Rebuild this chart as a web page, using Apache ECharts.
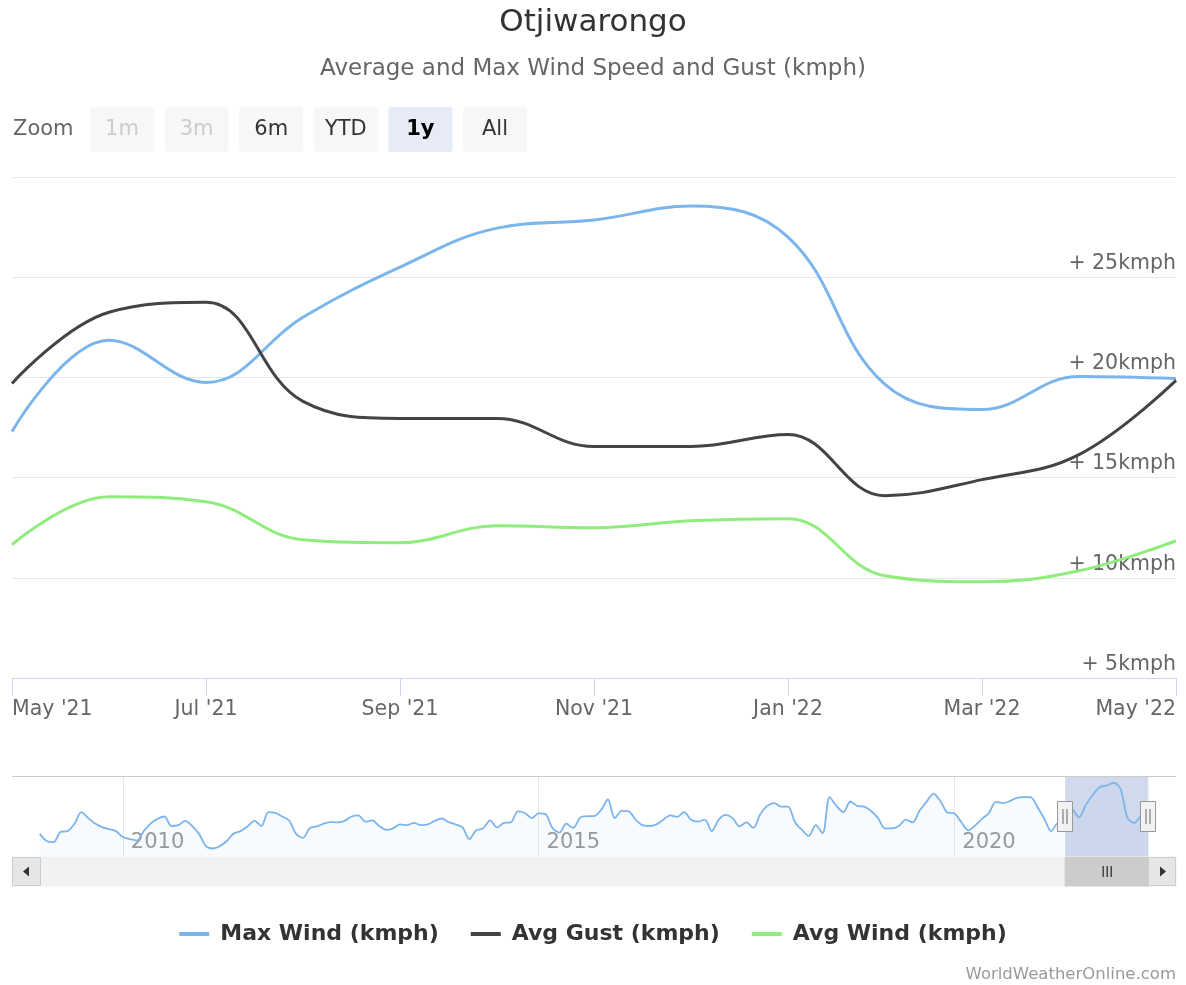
<!DOCTYPE html>
<html><head><meta charset="utf-8">
<script src="https://cdn.jsdelivr.net/npm/echarts@6/dist/echarts.min.js"></script>
<style>html,body{margin:0;padding:0;background:#fff}#chart{width:1186px;height:985px}</style>
</head><body><div id="chart"></div>
<script>
// ---------- data ----------
const months = ["May '21","Jun '21","Jul '21","Aug '21","Sep '21","Oct '21","Nov '21","Dec '21","Jan '22","Feb '22","Mar '22","Apr '22","May '22"];
const maxWind = [17.3,21.85,19.75,23.0,25.5,27.45,27.85,28.55,27.0,19.65,18.4,20.05,19.95];
const avgGust = [19.7,23.25,23.75,18.8,17.95,17.95,16.55,16.55,17.15,14.1,14.9,16.15,19.85];
const avgWind = [11.65,14.05,13.8,11.9,11.75,12.6,12.5,12.85,12.95,10.1,9.8,10.35,11.85];
const yTicks = [5,10,15,20,25,30];
const navYearLabels = ['2010-01','2015-01','2020-01'];
// Max Wind history shown in the navigator, Jan 2009 .. Apr 2021 (monthly)
const historyMaxWind = [
 15.6,13.8,13.5,16.1,16.3,18.1,21.1,19.6,18.2,17.3,16.8,16.3,
 14.8,14.3,13.9,16.3,18.2,19.4,20.0,17.6,17.8,18.9,17.6,15.6,
 12.5,11.9,12.5,13.8,15.7,16.3,17.5,18.9,17.6,21.1,20.9,20.0,
 19.0,15.6,14.6,17.1,17.5,18.2,18.6,18.5,18.9,20.0,20.3,18.7,
 19.0,17.6,16.6,17.0,18.0,17.8,18.4,17.8,18.0,18.9,19.5,18.6,
 18.0,17.3,14.3,16.5,17.0,19.0,17.2,18.4,18.5,21.3,20.9,19.6,
 20.8,20.6,17.1,15.9,18.2,17.1,19.7,20.1,20.1,21.6,24.3,19.6,
 21.4,21.3,19.2,17.8,17.6,18.0,19.2,20.3,19.9,21.1,19.2,18.7,
 19.2,16.3,19.2,20.4,19.6,17.5,18.5,17.1,20.6,22.7,23.4,22.5,
 22.5,18.6,16.6,15.1,17.8,15.8,24.9,22.7,21.1,23.8,22.7,22.5,
 21.4,19.6,17.0,17.0,17.6,19.2,18.5,21.5,23.7,25.8,23.9,21.0,
 20.8,18.6,16.5,17.7,19.4,20.9,23.7,23.4,23.9,24.7,24.9,24.9,
 22.4,19.4,16.3,18.4
];
const seriesNames = ['Max Wind (kmph)','Avg Gust (kmph)','Avg Wind (kmph)'];
const seriesColors = ['#7cb5ec','#434348','#90ed7d'];
const zoomButtons = [
  {label:'1m', state:'disabled'},{label:'3m', state:'disabled'},{label:'6m', state:'normal'},
  {label:'YTD', state:'normal'},{label:'1y', state:'selected'},{label:'All', state:'normal'}
];

// navigator categories Sep 2008 .. Sep 2022
const navCats = [];
for (let i = 0; i < 169; i++) {
  const t = 2008*12 + 8 + i;
  const yy = Math.floor(t/12), mm = t%12 + 1;
  navCats.push(yy + '-' + (mm < 10 ? '0' + mm : mm));
}
const pad = n => new Array(n).fill(null);
const navData = pad(4).concat(historyMaxWind, maxWind, pad(4));

const FONT = "'DejaVu Sans', Verdana, sans-serif";
const chart = echarts.init(document.getElementById('chart'));
const yearInterval = (idx, val) => navYearLabels.indexOf(val) >= 0;

const option = {
  animation:false,
  backgroundColor:'#ffffff',
  textStyle:{fontFamily:FONT},
  title:[
    {text:'Otjiwarongo', left:'center', top:7, padding:0, textStyle:{fontSize:31, fontWeight:'normal', color:'#333333', fontFamily:FONT}},
    {text:'Average and Max Wind Speed and Gust (kmph)', left:'center', top:58, padding:0, textStyle:{fontSize:23, fontWeight:'normal', color:'#666666', fontFamily:FONT}},
    {text:'WorldWeatherOnline.com', right:10, top:966, padding:0, textStyle:{fontSize:16.5, fontWeight:'normal', color:'#999999', fontFamily:FONT}}
  ],
  legend:{
    top:923, left:'center', padding:0, icon:'rect', itemWidth:30, itemHeight:4, itemGap:32,
    textStyle:{fontSize:22, fontWeight:'bold', color:'#333333', fontFamily:FONT, padding:[0,0,0,6]},
    data:seriesNames
  },
  grid:[
    {left:12, right:10, top:177, height:501, containLabel:false, outerBoundsMode:'none'},
    {left:12, right:10, top:777, height:79, containLabel:false, outerBoundsMode:'none'}
  ],
  xAxis:[
    {type:'category', gridIndex:0, data:months, boundaryGap:false,
     axisLine:{show:true, lineStyle:{color:'#ccd6eb', width:1}},
     axisTick:{show:true, interval:1, length:18, lineStyle:{color:'#ccd6eb'}},
     axisLabel:{interval:1, color:'#666666', fontSize:20.5, fontFamily:FONT, margin:21, alignMinLabel:'left', alignMaxLabel:'right'},
     splitLine:{show:false}},
    {type:'category', gridIndex:1, data:navCats, boundaryGap:false,
     axisLine:{show:false}, axisTick:{show:false},
     splitLine:{show:true, interval:yearInterval, lineStyle:{color:'#e6e6e6', width:1}},
     axisLabel:{show:true, inside:true, interval:yearInterval, formatter:v => v.slice(0,4), align:'left', padding:[0,0,0,8], margin:3, color:'#999999', fontSize:21, fontFamily:FONT}}
  ],
  yAxis:[
    {type:'value', gridIndex:0, min:yTicks[0], max:yTicks[yTicks.length-1], interval:5, position:'right',
     axisLine:{show:false}, axisTick:{show:false},
     splitLine:{show:true, lineStyle:{color:'#e6e6e6', width:1}},
     axisLabel:{inside:true, showMaxLabel:false, formatter:'+ {value}kmph', color:'#666666', fontSize:20.5, fontFamily:FONT, verticalAlign:'bottom', padding:[0,0,3,0], margin:0}},
    {type:'value', gridIndex:1, min:10, max:30, show:false, splitLine:{show:false}}
  ],
  series:[
    {name:seriesNames[0], type:'line', xAxisIndex:0, yAxisIndex:0, data:maxWind, smooth:0.4, symbol:'none', color:seriesColors[0], lineStyle:{width:3, color:seriesColors[0]}, z:3},
    {name:seriesNames[1], type:'line', xAxisIndex:0, yAxisIndex:0, data:avgGust, smooth:0.4, symbol:'none', color:seriesColors[1], lineStyle:{width:3, color:seriesColors[1]}, z:3},
    {name:seriesNames[2], type:'line', xAxisIndex:0, yAxisIndex:0, data:avgWind, smooth:0.4, symbol:'none', color:seriesColors[2], lineStyle:{width:3, color:seriesColors[2]}, z:3},
    {name:'navigator', type:'line', xAxisIndex:1, yAxisIndex:1, data:navData, smooth:0.3, symbol:'none', silent:true,
     lineStyle:{width:1.8, color:'#7cb5ec'}, areaStyle:{color:'rgba(124,181,236,0.07)'},
     markArea:{silent:true, itemStyle:{color:'rgba(102,133,194,0.3)'}, data:[[{xAxis:'2021-05'},{xAxis:'2022-05'}]]}}
  ]
};
chart.setOption(option);

// ---------- UI decorations (range selector, navigator handles, scrollbar) ----------
const g = [];
g.push({type:'text', x:13, y:130, style:{text:'Zoom', fill:'#666666', fontSize:21, fontFamily:FONT, align:'left', textAlign:'left', verticalAlign:'middle', textVerticalAlign:'middle'}});
zoomButtons.forEach((b, i) => {
  const bx = 90 + i*74.6;
  const fill = b.state === 'selected' ? '#e6ebf5' : '#f7f7f7';
  const tc = b.state === 'disabled' ? '#cccccc' : (b.state === 'selected' ? '#000000' : '#333333');
  g.push({type:'rect', shape:{x:bx, y:107, width:64, height:45, r:3}, style:{fill:fill}});
  g.push({type:'text', x:bx+32, y:130, style:{text:b.label, fill:tc, fontSize:21, fontWeight:b.state==='selected'?'bold':'normal', fontFamily:FONT, align:'center', textAlign:'center', verticalAlign:'middle', textVerticalAlign:'middle'}});
});
// navigator outline
g.push({type:'line', shape:{x1:12, y1:776.5, x2:1176, y2:776.5}, style:{stroke:'#cccccc', lineWidth:1}});
const xs = chart.convertToPixel({xAxisIndex:1}, '2021-05');
const xe = chart.convertToPixel({xAxisIndex:1}, '2022-05');
// scrollbar
g.push({type:'rect', shape:{x:12, y:857, width:1164, height:29}, style:{fill:'#f2f2f2', stroke:'#f2f2f2'}});
g.push({type:'rect', shape:{x:xs, y:857, width:xe-xs, height:29}, style:{fill:'#cccccc', stroke:'#cccccc'}});
const cx = (xs+xe)/2;
[-4,0,4].forEach(d => g.push({type:'line', shape:{x1:cx+d+0.5, y1:866, x2:cx+d+0.5, y2:877}, style:{stroke:'#333333', lineWidth:1.3}}));
g.push({type:'rect', shape:{x:12.5, y:857.5, width:28, height:28}, style:{fill:'#e6e6e6', stroke:'#cccccc', lineWidth:1}});
g.push({type:'polygon', shape:{points:[[23,871.5],[29,866.5],[29,876.5]]}, style:{fill:'#333333'}});
g.push({type:'rect', shape:{x:1148.5, y:857.5, width:27, height:28}, style:{fill:'#e6e6e6', stroke:'#cccccc', lineWidth:1}});
g.push({type:'polygon', shape:{points:[[1166,871.5],[1160,866.5],[1160,876.5]]}, style:{fill:'#333333'}});
// navigator handles
[xs, xe].forEach(hx => {
  g.push({type:'rect', z:10, shape:{x:Math.round(hx)-7.5, y:801.5, width:15, height:30}, style:{fill:'#f2f2f2', stroke:'#999999', lineWidth:1}});
  g.push({type:'line', z:11, shape:{x1:Math.round(hx)-2, y1:809, x2:Math.round(hx)-2, y2:824}, style:{stroke:'#666666', lineWidth:1}});
  g.push({type:'line', z:11, shape:{x1:Math.round(hx)+2, y1:809, x2:Math.round(hx)+2, y2:824}, style:{stroke:'#666666', lineWidth:1}});
});
chart.setOption({graphic:g});
</script>
</body></html>
